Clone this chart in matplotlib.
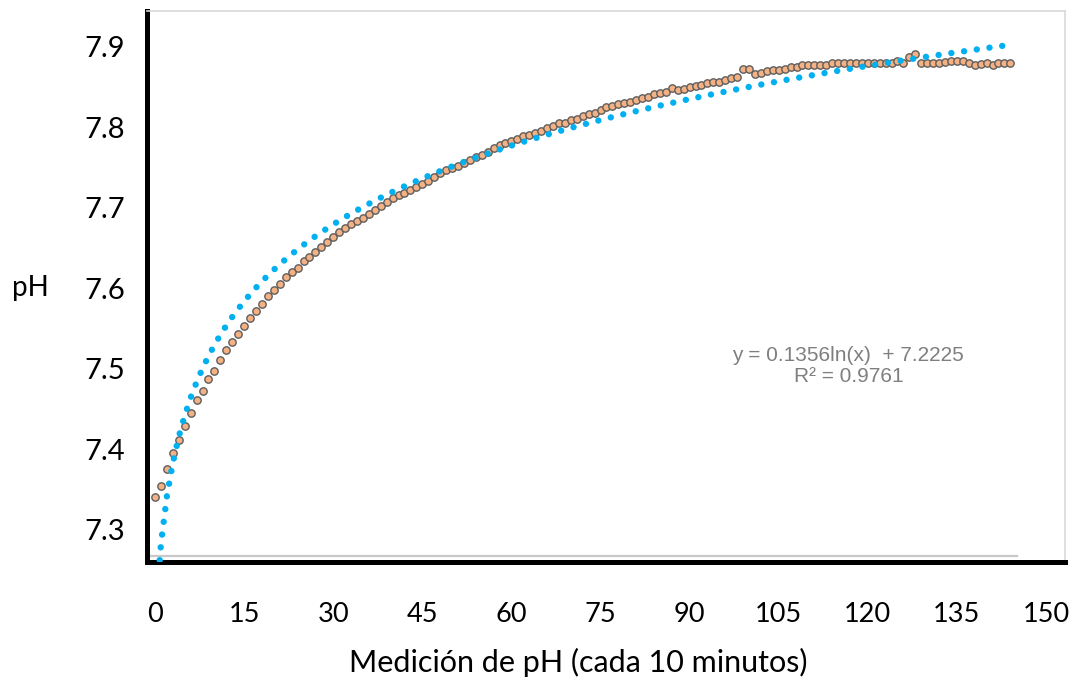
import numpy as np
import matplotlib.pyplot as plt

# numero de medicion (cada 10 minutos) y pH leido
medicion = np.arange(0, 145)
ph = [7.341, 7.355, 7.376, 7.396, 7.412, 7.429, 7.445, 7.461, 7.473, 7.487,
      7.498, 7.511, 7.524, 7.534, 7.544, 7.554, 7.563, 7.572, 7.581, 7.591,
      7.598, 7.606, 7.614, 7.620, 7.626, 7.634, 7.639, 7.645, 7.652, 7.658,
      7.664, 7.670, 7.675, 7.680, 7.684, 7.688, 7.693, 7.698, 7.702, 7.708,
      7.712, 7.716, 7.719, 7.722, 7.726, 7.730, 7.734, 7.738, 7.743, 7.747,
      7.750, 7.752, 7.756, 7.759, 7.763, 7.766, 7.770, 7.774, 7.778, 7.781,
      7.783, 7.786,
      7.789, 7.791, 7.793, 7.796, 7.799, 7.802, 7.805, 7.806, 7.809, 7.811,
      7.814, 7.817, 7.818,
      7.822, 7.825, 7.827, 7.829, 7.831, 7.832, 7.834, 7.836, 7.838,
      7.842, 7.843, 7.844, 7.849, 7.847, 7.848, 7.850, 7.851, 7.853, 7.855,
      7.856, 7.857, 7.859, 7.861, 7.863, 7.873, 7.873, 7.866, 7.868, 7.870,
      7.871, 7.872, 7.873, 7.875, 7.875, 7.877, 7.878, 7.878, 7.878, 7.878,
      7.880, 7.880, 7.880, 7.880,
      7.880, 7.880, 7.880, 7.880, 7.880, 7.880, 7.880, 7.882, 7.880, 7.888,
      7.891, 7.880, 7.880, 7.880, 7.880, 7.881, 7.882, 7.882, 7.882, 7.880,
      7.878, 7.879, 7.880, 7.878, 7.880, 7.880, 7.880]

xticks = [0, 15, 30, 45, 60, 75, 90, 105, 120, 135, 150]
yticks = [7.3, 7.4, 7.5, 7.6, 7.7, 7.8, 7.9]
eq_text = 'y = 0.1356ln(x)  + 7.2225\nR² = 0.9761'

# tendencia logaritmica (excel usa el indice 1..n)
n = medicion + 1
coef = np.polyfit(np.log(n), ph, 1)
trend = np.polyval(coef, np.log(n))

fig = plt.figure(figsize=(10.73, 6.83), dpi=100)
ax = fig.add_axes([147/1073, 121/683, 918/1073, 551/683])

ax.plot(medicion, ph, linestyle='none', marker='o', markersize=5.3,
        markerfacecolor='#f4b183', markeredgecolor='#5e5e5e', markeredgewidth=1.0, zorder=3)
ax.plot(medicion, trend, color='#00b0f0', linewidth=4.6, linestyle=(0, (0.01, 2.0)),
        dash_capstyle='round', zorder=4)

ax.set_xlim(-1.35, 153.2)
ax.set_ylim(7.2602, 7.9447)
ax.axhline(7.2677, xmin=0.003, xmax=0.948, color='#c8c8c8', linewidth=1.6, zorder=2)

for s in ['left', 'bottom']:
    ax.spines[s].set_color('k')
    ax.spines[s].set_linewidth(3.6)
for s in ['top', 'right']:
    ax.spines[s].set_color('#d9d9d9')
    ax.spines[s].set_linewidth(1.2)

ax.set_xticks(xticks)
ax.set_yticks(yticks)
ax.set_xticklabels([str(v) for v in xticks], fontsize=19.5, family='Lato')
ax.set_yticklabels(['%.1f' % v for v in yticks], fontsize=21, family='Lato')
ax.tick_params(axis='both', length=0)
ax.tick_params(axis='y', pad=16)
ax.tick_params(axis='x', pad=29)

ax.text(0.764, 0.356, eq_text, transform=ax.transAxes, ha='center', va='center',
        multialignment='center', fontsize=15, color='#7f7f7f', family='Liberation Sans',
        linespacing=1.15)

fig.text(30/1073, 1 - 288/683, 'pH', fontsize=20, family='Lato', ha='center', va='center')
fig.text(578/1073, 1 - 662/683, 'Medición de pH (cada 10 minutos)', fontsize=22,
         family='Lato', ha='center', va='center')

fig.savefig('out.png', dpi=100)
